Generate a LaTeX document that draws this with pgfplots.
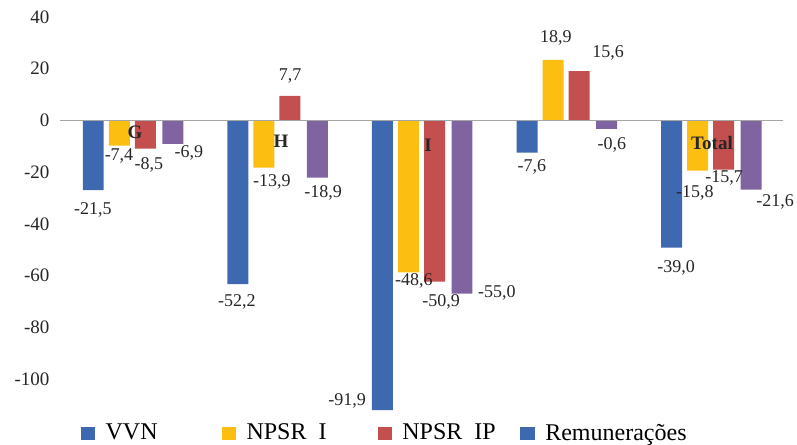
\documentclass[border=0pt]{standalone}
\usepackage{pgfplots}
\pgfplotsset{compat=1.18}
\usepackage{fontspec}
\setmainfont{Liberation Serif}
\definecolor{cvvn}{RGB}{62,105,177}
\definecolor{cnpi}{RGB}{252,191,17}
\definecolor{cnpip}{RGB}{196,79,79}
\definecolor{crem}{RGB}{128,100,162}
\definecolor{zline}{RGB}{165,165,165}
\begin{document}
\begin{tikzpicture}
\begin{axis}[
  at={(60pt,31.1pt)}, anchor=south west,
  x=144.6pt, y=2.5875pt,
  xmin=-0.5, xmax=4.5, ymin=-113, ymax=46.5,
  axis line style={draw=none},
  major tick length=0pt,
  xtick=\empty,
  ytick={-100,-80,-60,-40,-20,0,20,40},
  yticklabels={-100,-80,-60,-40,-20,0,20,40},
  yticklabel style={font=\fontsize{19}{19}\selectfont, xshift=-7pt, text=black!85},
  clip=false,
  legend columns=4,
  legend style={draw=none, fill=none, inner sep=0pt, outer sep=0pt,
    at={(rel axis cs:0,0)}, anchor=north west, xshift=20.7pt, yshift=-11pt,
    nodes={inner sep=0pt}, font=\fontsize{24}{24}\selectfont,
    /tikz/every even column/.append style={column sep=0pt}},
  legend cell align=left,
]
\addplot[ybar, bar width=0.145, bar shift=-0.27, fill=cvvn, draw=none, forget plot]
  coordinates {(0,-26.9) (1,-63.2) (2,-111.9) (3,-12.4) (4,-49.1)};
\addplot[ybar, bar width=0.145, bar shift=-0.09, fill=cnpi, draw=none, forget plot]
  coordinates {(0,-9.7) (1,-18.2) (2,-58.7) (3,23.4) (4,-19.4)};
\addplot[ybar, bar width=0.145, bar shift=0.09, fill=cnpip, draw=none, forget plot]
  coordinates {(0,-10.9) (1,9.5) (2,-62.3) (3,19.1) (4,-19.0)};
\addplot[ybar, bar width=0.145, bar shift=0.28, fill=crem, draw=none, forget plot]
  coordinates {(0,-9.0) (1,-22.1) (2,-66.9) (3,-3.2) (4,-26.7)};
\draw[zline, line width=1.5pt] (axis cs:-0.5,0) -- (axis cs:4.5,0);
% data labels
\begin{scope}[every node/.style={font=\fontsize{18}{18}\selectfont, text=black!85, inner sep=0pt}]
\node at (axis cs:-0.272,-34.6) {-21,5};
\node at (axis cs:-0.092,-13.7) {-7,4};
\node at (axis cs:0.115,-17.2) {-8,5};
\node at (axis cs:0.392,-12.6) {-6,9};
\node at (axis cs:0.724,-70.1) {-52,2};
\node at (axis cs:0.966,-23.8) {-13,9};
\node at (axis cs:1.091,17.2) {7,7};
\node at (axis cs:1.319,-28.0) {-18,9};
\node at (axis cs:1.485,-108.4) {-91,9};
\node at (axis cs:1.948,-62.0) {-48,6};
\node at (axis cs:2.135,-70.1) {-50,9};
\node at (axis cs:2.522,-66.7) {-55,0};
\node at (axis cs:2.764,-18.0) {-7,6};
\node at (axis cs:2.930,31.9) {18,9};
\node at (axis cs:3.290,26.1) {15,6};
\node at (axis cs:3.317,-9.5) {-0,6};
\node at (axis cs:3.760,-57.0) {-39,0};
\node at (axis cs:3.891,-28.0) {-15,8};
\node at (axis cs:4.092,-22.2) {-15,7};
\node at (axis cs:4.445,-31.5) {-21,6};
\end{scope}
% category labels
\begin{scope}[every node/.style={font=\fontsize{19}{19}\selectfont\bfseries, text=black!85, inner sep=0pt}]
\node at (axis cs:0.019,-4.7) {G};
\node at (axis cs:1.028,-8.2) {H};
\node at (axis cs:2.045,-9.5) {I};
\node at (axis cs:4.009,-8.6) {Total};
\end{scope}
\addlegendimage{legend image code/.code={\fill[cvvn] (0pt,-6pt) rectangle (13.5pt,6pt); \path (24.5pt,0pt);}}
\addlegendentry{\makebox[116pt][l]{VVN}}
\addlegendimage{legend image code/.code={\fill[cnpi] (0pt,-6pt) rectangle (13.5pt,6pt); \path (24.5pt,0pt);}}
\addlegendentry{\makebox[131pt][l]{NPSR\ \ I}}
\addlegendimage{legend image code/.code={\fill[cnpip] (0pt,-6pt) rectangle (13.5pt,6pt); \path (24.5pt,0pt);}}
\addlegendentry{\makebox[118pt][l]{NPSR\ \ IP}}
\addlegendimage{legend image code/.code={\fill[cvvn] (0pt,-6pt) rectangle (13.5pt,6pt); \path (24.5pt,0pt);}}
\addlegendentry{Remunerações}
\end{axis}
\pgfresetboundingbox
\path (0,0) rectangle (797pt,444pt);
\end{tikzpicture}
\end{document}
